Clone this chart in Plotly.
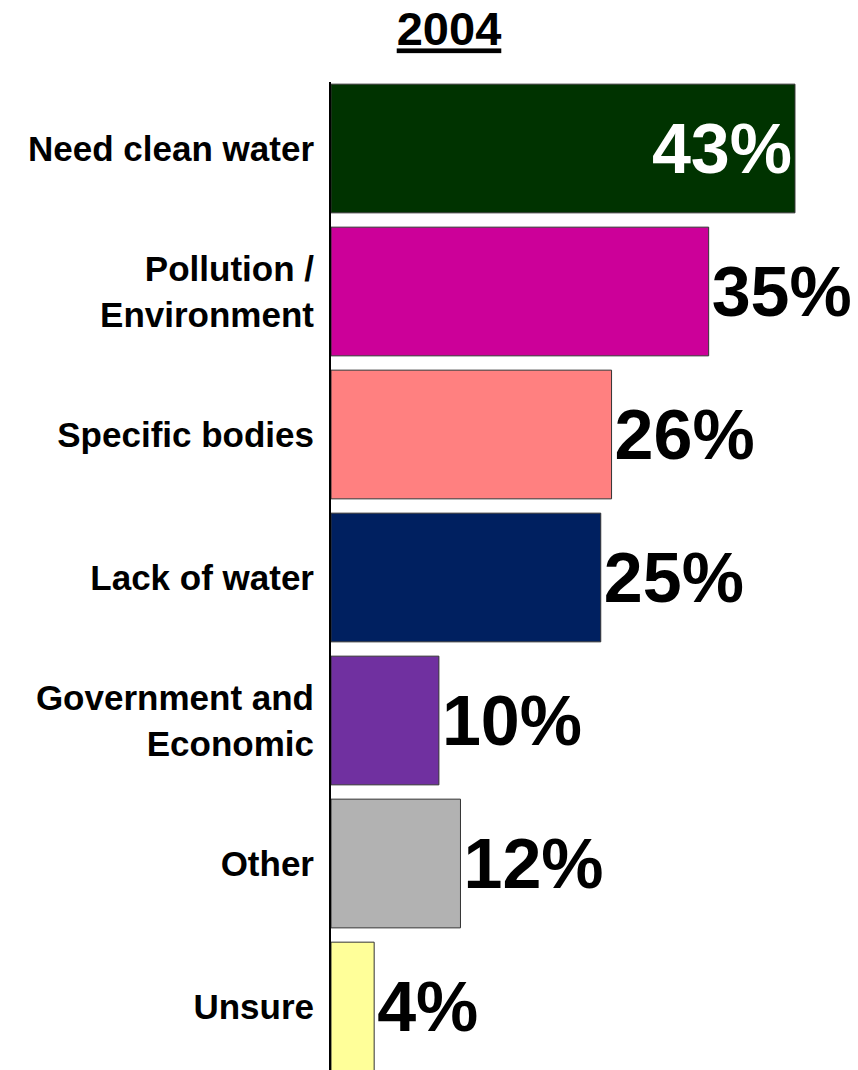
import plotly.graph_objects as go

categories = ["Need clean water", "Pollution /<br>Environment", "Specific bodies",
              "Lack of water", "Government and<br>Economic", "Other", "Unsure"]
values = [43, 35, 26, 25, 10, 12, 4]
labels = ["43%", "35%", "26%", "25%", "10%", "12%", "4%"]
colors = ["#003300", "#CC0099", "#FF8080", "#002060", "#7030A0", "#B2B2B2", "#FFFF99"]
text_positions = ["inside", "outside", "outside", "outside", "outside", "outside", "outside"]
text_colors = ["white", "black", "black", "black", "black", "black", "black"]
title_text = "2004"

FONT = "Liberation Sans, Arial, sans-serif"

fig = go.Figure(go.Bar(
    y=categories,
    x=values,
    orientation="h",
    marker=dict(color=colors, line=dict(color="#333333", width=1)),
    width=0.9,
    text=["<b>" + t + "</b>" for t in labels],
    textposition=text_positions,
    insidetextanchor="end",
    textfont=dict(family=FONT, size=70, color=text_colors),
    constraintext="none",
    cliponaxis=False,
))

fig.update_layout(
    width=858,
    height=1070,
    margin=dict(l=331, r=0, t=82, b=0),
    paper_bgcolor="white",
    plot_bgcolor="white",
    showlegend=False,
    title=dict(
        text="<b><u>" + title_text + "</u></b>",
        x=449 / 858,
        xanchor="center",
        y=1 - 29 / 1070,
        yanchor="middle",
        font=dict(family=FONT, size=47, color="black"),
    ),
    font=dict(family=FONT, color="black"),
)

fig.update_xaxes(
    range=[0, 48.84],
    showgrid=False,
    zeroline=False,
    showticklabels=False,
    showline=False,
    ticks="",
)

fig.update_yaxes(
    type="category",
    range=[6.444, -0.465],
    showgrid=False,
    zeroline=False,
    showline=True,
    linecolor="black",
    linewidth=2,
    ticks="",
    ticklabelstandoff=8,
    tickfont=dict(family=FONT, size=35, color="black"),
    tickmode="array",
    tickvals=categories,
    ticktext=["<b>" + c + "</b>" for c in categories],
)

fig.write_html(
    "out.html",
    config={"displayModeBar": False},
    post_script="document.body.style.margin='0';document.body.style.overflow='hidden';",
)
